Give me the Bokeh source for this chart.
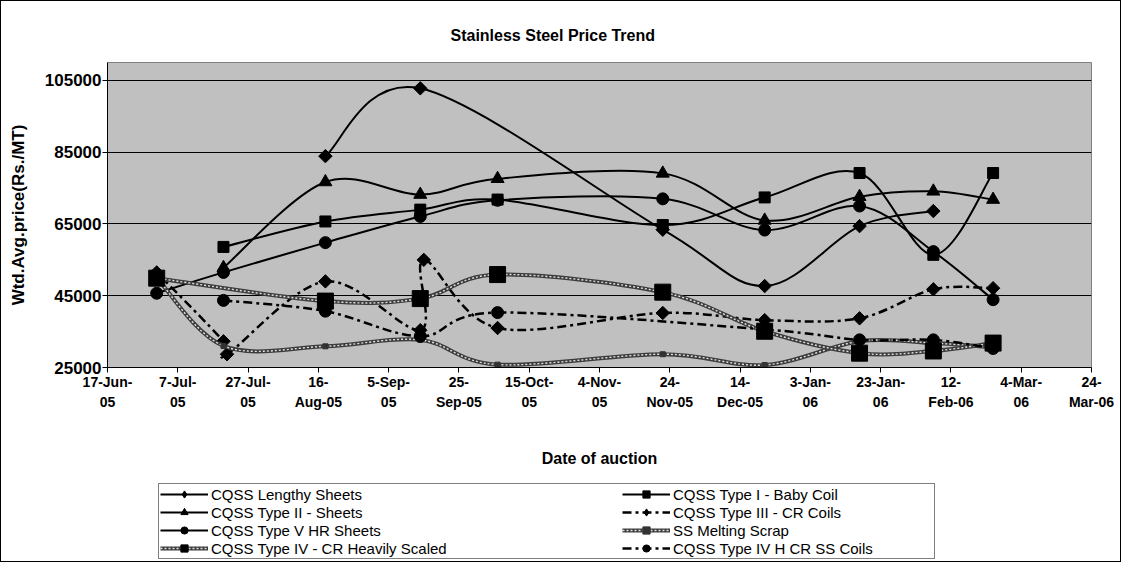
import numpy as np
import pandas as pd
from bokeh.plotting import figure
from bokeh.layouts import column
from bokeh.models import (Range1d, FixedTicker, CustomJSTickFormatter, BasicTickFormatter,
                          Legend, LegendItem, ColumnDataSource)
from bokeh.embed import file_html
from bokeh.resources import INLINE

# ---------------- data ----------------
lengthy_dates = ["2005-08-18", "2005-09-14", "2005-11-22", "2005-12-21", "2006-01-17", "2006-02-07"]
lengthy_vals = [83900, 102800, 63400, 47700, 64400, 68600]

baby_dates = ["2005-07-20", "2005-08-18", "2005-09-14", "2005-10-06", "2005-11-22",
              "2005-12-21", "2006-01-17", "2006-02-07", "2006-02-24"]
baby_vals = [58600, 65700, 69000, 71800, 64700, 72400, 79200, 56400, 79200]

type2_dates = ["2005-07-20", "2005-08-18", "2005-09-14", "2005-10-06", "2005-11-22",
               "2005-12-21", "2006-01-17", "2006-02-07", "2006-02-24"]
type2_vals = [52800, 76700, 73200, 77600, 79100, 66000, 72600, 74100, 71800]

type3_dates = ["2005-07-01", "2005-07-20", "2005-07-21", "2005-08-18", "2005-09-14", "2005-09-15",
               "2005-10-06", "2005-11-22", "2005-12-21", "2006-01-17", "2006-02-07", "2006-02-24"]
type3_vals = [51500, 32300, 28700, 49000, 35400, 55000, 36000, 40200, 38200, 38700, 46800, 47100]

type5_dates = ["2005-07-01", "2005-07-20", "2005-08-18", "2005-09-14", "2005-10-06",
               "2005-11-22", "2005-12-21", "2006-01-17", "2006-02-07", "2006-02-24"]
type5_vals = [45700, 51500, 59800, 67100, 71600, 72000, 63300, 70000, 57300, 43900]

scrap_dates = ["2005-07-01", "2005-07-20", "2005-08-18", "2005-09-14", "2005-10-06",
               "2005-11-22", "2005-12-21", "2006-01-17", "2006-02-07", "2006-02-24"]
scrap_vals = [50000, 31000, 30900, 32700, 25800, 28700, 25700, 32300, 31800, 30600]

heavy_dates = ["2005-07-01", "2005-08-18", "2005-09-14", "2005-10-06", "2005-11-22",
               "2005-12-21", "2006-01-17", "2006-02-07", "2006-02-24"]
heavy_vals = [49900, 43500, 44200, 50900, 46000, 35100, 29000, 29600, 31800]

type4h_dates = ["2005-07-20", "2005-08-18", "2005-09-14", "2005-10-06", "2005-12-21",
                "2006-01-17", "2006-02-07", "2006-02-24"]
type4h_vals = [43700, 40700, 33700, 40300, 35600, 32700, 32700, 30300]

series_names = ["CQSS Lengthy Sheets", "CQSS Type I - Baby Coil", "CQSS Type II - Sheets",
                "CQSS Type III - CR Coils", "CQSS Type V HR Sheets", "SS Melting Scrap",
                "CQSS Type IV - CR Heavily Scaled", "CQSS Type IV H CR SS Coils"]

tick_dates = ["2005-06-17", "2005-07-07", "2005-07-27", "2005-08-16", "2005-09-05", "2005-09-25",
              "2005-10-15", "2005-11-04", "2005-11-24", "2005-12-14", "2006-01-03", "2006-01-23",
              "2006-02-12", "2006-03-04", "2006-03-24"]
tick_labels = ["17-Jun-\n05", "7-Jul-\n05", "27-Jul-\n05", "16-\nAug-05", "5-Sep-\n05", "25-\nSep-05",
               "15-Oct-\n05", "4-Nov-\n05", "24-\nNov-05", "14-\nDec-05", "3-Jan-\n06", "23-Jan-\n06",
               "12-\nFeb-06", "4-Mar-\n06", "24-\nMar-06"]
y_ticks = [25000, 45000, 65000, 85000, 105000]


def to_ms(dates):
    d = pd.to_datetime(dates)
    return np.asarray((d - pd.Timestamp("1970-01-01")) / pd.Timedelta(milliseconds=1), dtype=float)


def smooth_source(dates, vals):
    """Bezier segments through the data points (Excel-like smoothed line)."""
    x = to_ms(dates)
    y = np.asarray(vals, dtype=float)
    n = len(x)
    xp = np.concatenate([[x[0]], x, [x[-1]]])
    yp = np.concatenate([[y[0]], y, [y[-1]]])
    i = np.arange(n - 1)
    return ColumnDataSource(dict(
        x0=xp[i + 1], y0=yp[i + 1], x1=xp[i + 2], y1=yp[i + 2],
        cx0=xp[i + 1] + (xp[i + 2] - xp[i]) / 6.0, cy0=yp[i + 1] + (yp[i + 2] - yp[i]) / 6.0,
        cx1=xp[i + 2] - (xp[i + 3] - xp[i + 1]) / 6.0, cy1=yp[i + 2] - (yp[i + 3] - yp[i + 1]) / 6.0,
    ))


FONT = "Liberation Sans"
W = 1119
BL, BR = 106, 29          # side borders shared by both panels (keeps frames aligned)
MAIN_H, LEG_H = 480, 80

p = figure(width=W, height=MAIN_H, x_axis_type="datetime", output_backend="svg",
           toolbar_location=None,
           x_range=Range1d(to_ms(["2005-06-17"])[0], to_ms(["2006-03-24"])[0]),
           y_range=Range1d(25000, 110000),
           min_border_left=BL, min_border_right=BR, min_border_top=61, min_border_bottom=MAIN_H - 366)

p.background_fill_color = "#C0C0C0"
p.border_fill_color = "white"
p.outline_line_color = "#808080"
p.outline_line_width = 1

p.title.text = "Stainless Steel Price Trend"
p.title.text_font = FONT
p.title.text_font_size = "16px"
p.title.text_font_style = "bold"
p.title.text_color = "black"
p.title.align = "left"
p.title.offset = 343
p.title.standoff = 38

# axes
p.xaxis.ticker = FixedTicker(ticks=list(to_ms(tick_dates)))
p.xaxis.formatter = CustomJSTickFormatter(
    args=dict(labels=tick_labels, tms=list(to_ms(tick_dates))),
    code="""
    let best = 0, bd = Infinity;
    for (let k = 0; k < tms.length; k++) { const d = Math.abs(tms[k] - tick); if (d < bd) { bd = d; best = k; } }
    return labels[best];
    """)
p.yaxis.ticker = FixedTicker(ticks=y_ticks)
p.yaxis.formatter = BasicTickFormatter(use_scientific=False)

for ax in (p.xaxis[0], p.yaxis[0]):
    ax.axis_line_color = "black"
    ax.major_tick_line_color = "black"
    ax.major_tick_out = 5
    ax.major_tick_in = 0
    ax.minor_tick_line_color = None
    ax.major_label_text_font = FONT
    ax.major_label_text_font_style = "bold"
    ax.major_label_text_color = "black"
    ax.axis_label_text_font = FONT
    ax.axis_label_text_font_style = "bold"
    ax.axis_label_text_color = "black"

p.xaxis.major_label_text_font_size = "14px"
p.xaxis.major_label_text_line_height = 1.25
p.xaxis.major_label_standoff = 1
p.xaxis.axis_label = "Date of auction"
p.xaxis.axis_label_text_font_size = "16px"
p.xaxis.axis_label_standoff = 37

p.yaxis.major_label_text_font_size = "17px"
p.yaxis.major_label_standoff = 1
p.yaxis.axis_label = "Wtd.Avg.price(Rs./MT)"
p.yaxis.axis_label_text_font_size = "17px"
p.yaxis.axis_label_standoff = 14

p.xgrid.visible = False
p.ygrid.grid_line_color = "black"
p.ygrid.grid_line_width = 1

DASH = "9 4 3 4"
STYLES = {
    "lengthy": dict(marker="square", size=9.5, angle=np.pi / 4, dash="solid", width=2, leg="diamond"),
    "baby": dict(marker="square", size=11, angle=0.0, dash="solid", width=2, leg="square"),
    "type2": dict(marker="triangle", size=13, angle=0.0, dash="solid", width=2, leg="triangle"),
    "type3": dict(marker="square", size=9.5, angle=np.pi / 4, dash=DASH, width=2.5, leg="diamond"),
    "type5": dict(marker="circle", size=12, angle=0.0, dash="solid", width=2, leg="circle"),
    "type4h": dict(marker="circle", size=12, angle=0.0, dash=DASH, width=2.5, leg="circle"),
}
HATCH = {
    "scrap": dict(marker="square", size=5, color="#333333"),
    "heavy": dict(marker="square", size=16, color="black"),
}
BEZ = dict(x0="x0", y0="y0", x1="x1", y1="y1", cx0="cx0", cy0="cy0", cx1="cx1", cy1="cy1")


def solid_series(dates, vals, st):
    p.bezier(source=smooth_source(dates, vals), line_color="black",
             line_width=st["width"], line_dash=st["dash"], **BEZ)
    p.scatter(to_ms(dates), vals, marker=st["marker"], size=st["size"], angle=st["angle"],
              fill_color="black", line_color="black")


def hatched_series(dates, vals, st):
    src = smooth_source(dates, vals)
    p.bezier(source=src, line_color="#3c3c3c", line_width=4, **BEZ)
    p.bezier(source=src, line_color="#e0e0e0", line_width=1.4, line_dash="2 2", **BEZ)
    p.scatter(to_ms(dates), vals, marker=st["marker"], size=st["size"],
              fill_color=st["color"], line_color=st["color"])


solid_series(lengthy_dates, lengthy_vals, STYLES["lengthy"])
solid_series(baby_dates, baby_vals, STYLES["baby"])
solid_series(type2_dates, type2_vals, STYLES["type2"])
solid_series(type3_dates, type3_vals, STYLES["type3"])
solid_series(type5_dates, type5_vals, STYLES["type5"])
hatched_series(scrap_dates, scrap_vals, HATCH["scrap"])
hatched_series(heavy_dates, heavy_vals, HATCH["heavy"])
solid_series(type4h_dates, type4h_vals, STYLES["type4h"])

# ---------------- legend panel (same side borders, series kept out of its view) ----------------
lf = figure(width=W, height=LEG_H, x_range=Range1d(0, 1), y_range=Range1d(0, 1),
            x_axis_type=None, y_axis_type=None, toolbar_location=None, output_backend="svg",
            min_border_left=BL, min_border_right=BR, min_border_top=1, min_border_bottom=1)
lf.outline_line_color = None
lf.background_fill_color = "white"
lf.border_fill_color = "white"


def legend_solid(dates, vals, st):
    ln = lf.line(to_ms(dates), vals, line_color="black", line_width=st["width"], line_dash=st["dash"])
    mk = lf.scatter(to_ms(dates), vals, marker=st["leg"],
                    fill_color="black", line_color="black")
    return [ln, mk]


def legend_hatched(dates, vals, st):
    a = lf.line(to_ms(dates), vals, line_color="#3c3c3c", line_width=4)
    b = lf.line(to_ms(dates), vals, line_color="#e0e0e0", line_width=1.4, line_dash="2 2")
    mk = lf.scatter(to_ms(dates), vals, marker=st["marker"], fill_color=st["color"], line_color=st["color"])
    return [a, b, mk]


leg_common = dict(orientation="vertical", padding=1, spacing=0, margin=0,
                  label_height=18, glyph_height=18, glyph_width=48, label_standoff=3,
                  label_text_font=FONT, label_text_font_size="15px", label_text_color="black")

legA = Legend(items=[LegendItem(label=series_names[0], renderers=legend_solid(lengthy_dates, lengthy_vals, STYLES["lengthy"])),
                     LegendItem(label=series_names[2], renderers=legend_solid(type2_dates, type2_vals, STYLES["type2"])),
                     LegendItem(label=series_names[4], renderers=legend_solid(type5_dates, type5_vals, STYLES["type5"])),
                     LegendItem(label=series_names[6], renderers=legend_hatched(heavy_dates, heavy_vals, HATCH["heavy"]))],
              location=(51, 1), label_width=775 - 2 - 51,
              border_line_color="black", border_line_width=1,
              background_fill_color="white", background_fill_alpha=1, **leg_common)
legB = Legend(items=[LegendItem(label=series_names[1], renderers=legend_solid(baby_dates, baby_vals, STYLES["baby"])),
                     LegendItem(label=series_names[3], renderers=legend_solid(type3_dates, type3_vals, STYLES["type3"])),
                     LegendItem(label=series_names[5], renderers=legend_hatched(scrap_dates, scrap_vals, HATCH["scrap"])),
                     LegendItem(label=series_names[7], renderers=legend_solid(type4h_dates, type4h_vals, STYLES["type4h"]))],
              location=(514, 2),
              border_line_alpha=0, background_fill_alpha=0, **leg_common)
lf.add_layout(legA)
lf.add_layout(legB)

layout = column(p, lf, spacing=0, styles={"border": "1px solid black"})

open("out.html", "w").write(file_html(layout, INLINE))
